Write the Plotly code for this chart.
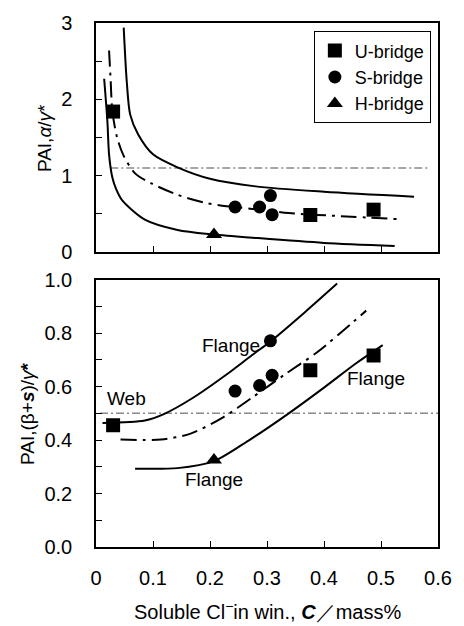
import plotly.graph_objects as go

# ---------------- data ----------------
# Top panel: PAI,alpha/gamma*
u_x = [0.030, 0.376, 0.487]
u_top = [1.84, 0.485, 0.555]
s_x = [0.244, 0.287, 0.306, 0.309]
s_top = [0.59, 0.59, 0.74, 0.49]
h_x = [0.207]
h_top = [0.23]

# Bottom panel: PAI,(beta+s)/gamma*
u_bot = [0.455, 0.661, 0.716]
s_bot = [0.583, 0.604, 0.771, 0.642]
h_bot = [0.325]

# Curves (top panel)
top_upper_x = [0.0486, 0.054, 0.060, 0.074, 0.100, 0.143, 0.200, 0.280, 0.400, 0.558]
top_upper_y = [2.94, 2.23, 1.80, 1.54, 1.28, 1.11, 0.96, 0.86, 0.79, 0.725]
top_mid_x = [0.0229, 0.0257, 0.0286, 0.037, 0.0486, 0.0686, 0.097, 0.143, 0.189, 0.229, 0.290, 0.338, 0.430, 0.533]
top_mid_y = [2.64, 2.25, 1.85, 1.50, 1.26, 1.03, 0.90, 0.75, 0.65, 0.60, 0.555, 0.51, 0.47, 0.43]
top_low_x = [0.0143, 0.020, 0.0229, 0.0286, 0.035, 0.0457, 0.0857, 0.143, 0.207, 0.280, 0.400, 0.524]
top_low_y = [2.27, 1.71, 1.28, 0.98, 0.83, 0.68, 0.425, 0.29, 0.23, 0.185, 0.12, 0.08]
top_ref_x = [0.025, 0.584]
top_ref_y = [1.10, 1.10]

# Curves (bottom panel)
bot_upper_x = [0.0114, 0.0857, 0.120, 0.171, 0.229, 0.274, 0.307, 0.366, 0.423]
bot_upper_y = [0.464, 0.473, 0.498, 0.559, 0.645, 0.718, 0.770, 0.877, 0.985]
bot_mid_x = [0.043, 0.114, 0.166, 0.223, 0.274, 0.331, 0.389, 0.474]
bot_mid_y = [0.402, 0.402, 0.424, 0.485, 0.559, 0.645, 0.730, 0.884]
bot_low_x = [0.0686, 0.143, 0.206, 0.269, 0.337, 0.400, 0.457, 0.503]
bot_low_y = [0.293, 0.295, 0.320, 0.400, 0.498, 0.596, 0.688, 0.755]
bot_ref_x = [0.007, 0.600]
bot_ref_y = [0.50, 0.50]

labels = ["Flange", "Web", "Flange", "Flange"]
label_x = [0.236, 0.053, 0.491, 0.207]
label_y = [0.752, 0.555, 0.629, 0.252]

x_ticks = [0, 0.1, 0.2, 0.3, 0.4, 0.5, 0.6]
x_ticktext = ["0", "0.1", "0.2", "0.3", "0.4", "0.5", "0.6"]

# ---------------- figure ----------------
FONT = "Liberation Sans, Arial, sans-serif"
fig = go.Figure()

solid = dict(color="black", width=2)
dashdot = dict(color="black", width=2, dash="16px,6px,3px,6px")
grayref = dict(color="#8a8a8a", width=1.5, dash="8px,3px,2px,3px")

def curve(x, y, line, xa, ya):
    fig.add_trace(go.Scatter(x=x, y=y, mode="lines", line=dict(**line, shape="spline", smoothing=0.8),
                             xaxis=xa, yaxis=ya, showlegend=False, hoverinfo="skip"))

# top panel curves
curve(top_ref_x, top_ref_y, grayref, "x2", "y2")
curve(top_upper_x, top_upper_y, solid, "x2", "y2")
curve(top_mid_x, top_mid_y, dashdot, "x2", "y2")
curve(top_low_x, top_low_y, solid, "x2", "y2")
# bottom panel curves
curve(bot_ref_x, bot_ref_y, grayref, "x", "y")
curve(bot_upper_x, bot_upper_y, solid, "x", "y")
curve(bot_mid_x, bot_mid_y, dashdot, "x", "y")
curve(bot_low_x, bot_low_y, solid, "x", "y")

series = [
    ("U-bridge", u_x, u_top, u_bot, "square", 14),
    ("S-bridge", s_x, s_top, s_bot, "circle", 13),
    ("H-bridge", h_x, h_top, h_bot, "triangle-up", 14),
]
for name, xs, yt, yb, sym, sz in series:
    fig.add_trace(go.Scatter(x=xs, y=yt, mode="markers", name=name, legendgroup=name,
                             marker=dict(symbol=sym, size=sz, color="black"),
                             xaxis="x2", yaxis="y2", showlegend=True))
    fig.add_trace(go.Scatter(x=xs, y=yb, mode="markers", name=name, legendgroup=name,
                             marker=dict(symbol=sym, size=sz, color="black"),
                             xaxis="x", yaxis="y", showlegend=False))

for t, xx, yy in zip(labels, label_x, label_y):
    fig.add_annotation(x=xx, y=yy, xref="x", yref="y", text=t, showarrow=False,
                       font=dict(size=19, color="black", family=FONT))

axis_common = dict(showline=True, mirror=True, linecolor="black", linewidth=1.5,
                   ticks="inside", ticklen=6, tickcolor="black", showgrid=False,
                   zeroline=False, tickfont=dict(size=20, color="black", family=FONT))

fig.update_layout(
    width=464, height=626,
    margin=dict(l=96, r=18, t=14, b=79),
    paper_bgcolor="white", plot_bgcolor="white",
    font=dict(family=FONT, color="black"),
    xaxis=dict(domain=[0, 1], range=[0, 0.6], tickvals=x_ticks, ticktext=x_ticktext,
               anchor="y", ticklabelstandoff=12, **axis_common),
    yaxis=dict(domain=[0, 0.5103], range=[0, 1.0], dtick=0.2, tickformat=".1f",
               minor=dict(dtick=0.1, ticks="inside", ticklen=6, tickcolor="black"),
               anchor="x", ticklabelstandoff=18, **axis_common),
    xaxis2=dict(domain=[0, 1], range=[0, 0.6], tickvals=x_ticks, showticklabels=False,
                anchor="y2", **axis_common),
    yaxis2=dict(domain=[0.5629, 1], range=[0, 3], dtick=1,
                minor=dict(dtick=0.5, ticks="inside", ticklen=6, tickcolor="black"),
                anchor="x2", ticklabelstandoff=18, **axis_common),
    legend=dict(x=0.637, y=0.984, xanchor="left", yanchor="top",
                bordercolor="black", borderwidth=1, bgcolor="white",
                font=dict(size=18, color="black", family=FONT),
                itemwidth=30, tracegroupgap=0),
    showlegend=True,
)

# axis titles
fig.add_annotation(x=0.5, y=-0.122, xref="paper", yref="paper", xanchor="center", yanchor="middle",
                   text="Soluble Cl<sup>−</sup>in win., <b><i>C</i></b>／mass%", showarrow=False,
                   font=dict(size=20, color="black", family=FONT))
fig.add_annotation(x=-0.151, y=0.781, xref="paper", yref="paper", xanchor="center", yanchor="middle",
                   text="PAI,<i>α</i>/<i>γ</i>*", textangle=-90, showarrow=False,
                   font=dict(size=19, color="black", family=FONT))
fig.add_annotation(x=-0.2, y=0.255, xref="paper", yref="paper", xanchor="center", yanchor="middle",
                   text="PAI,(β+<b><i>s</i></b>)/<i>γ</i><b>*</b>", textangle=-90, showarrow=False,
                   font=dict(size=19, color="black", family=FONT))

fig.write_html("out.html")
